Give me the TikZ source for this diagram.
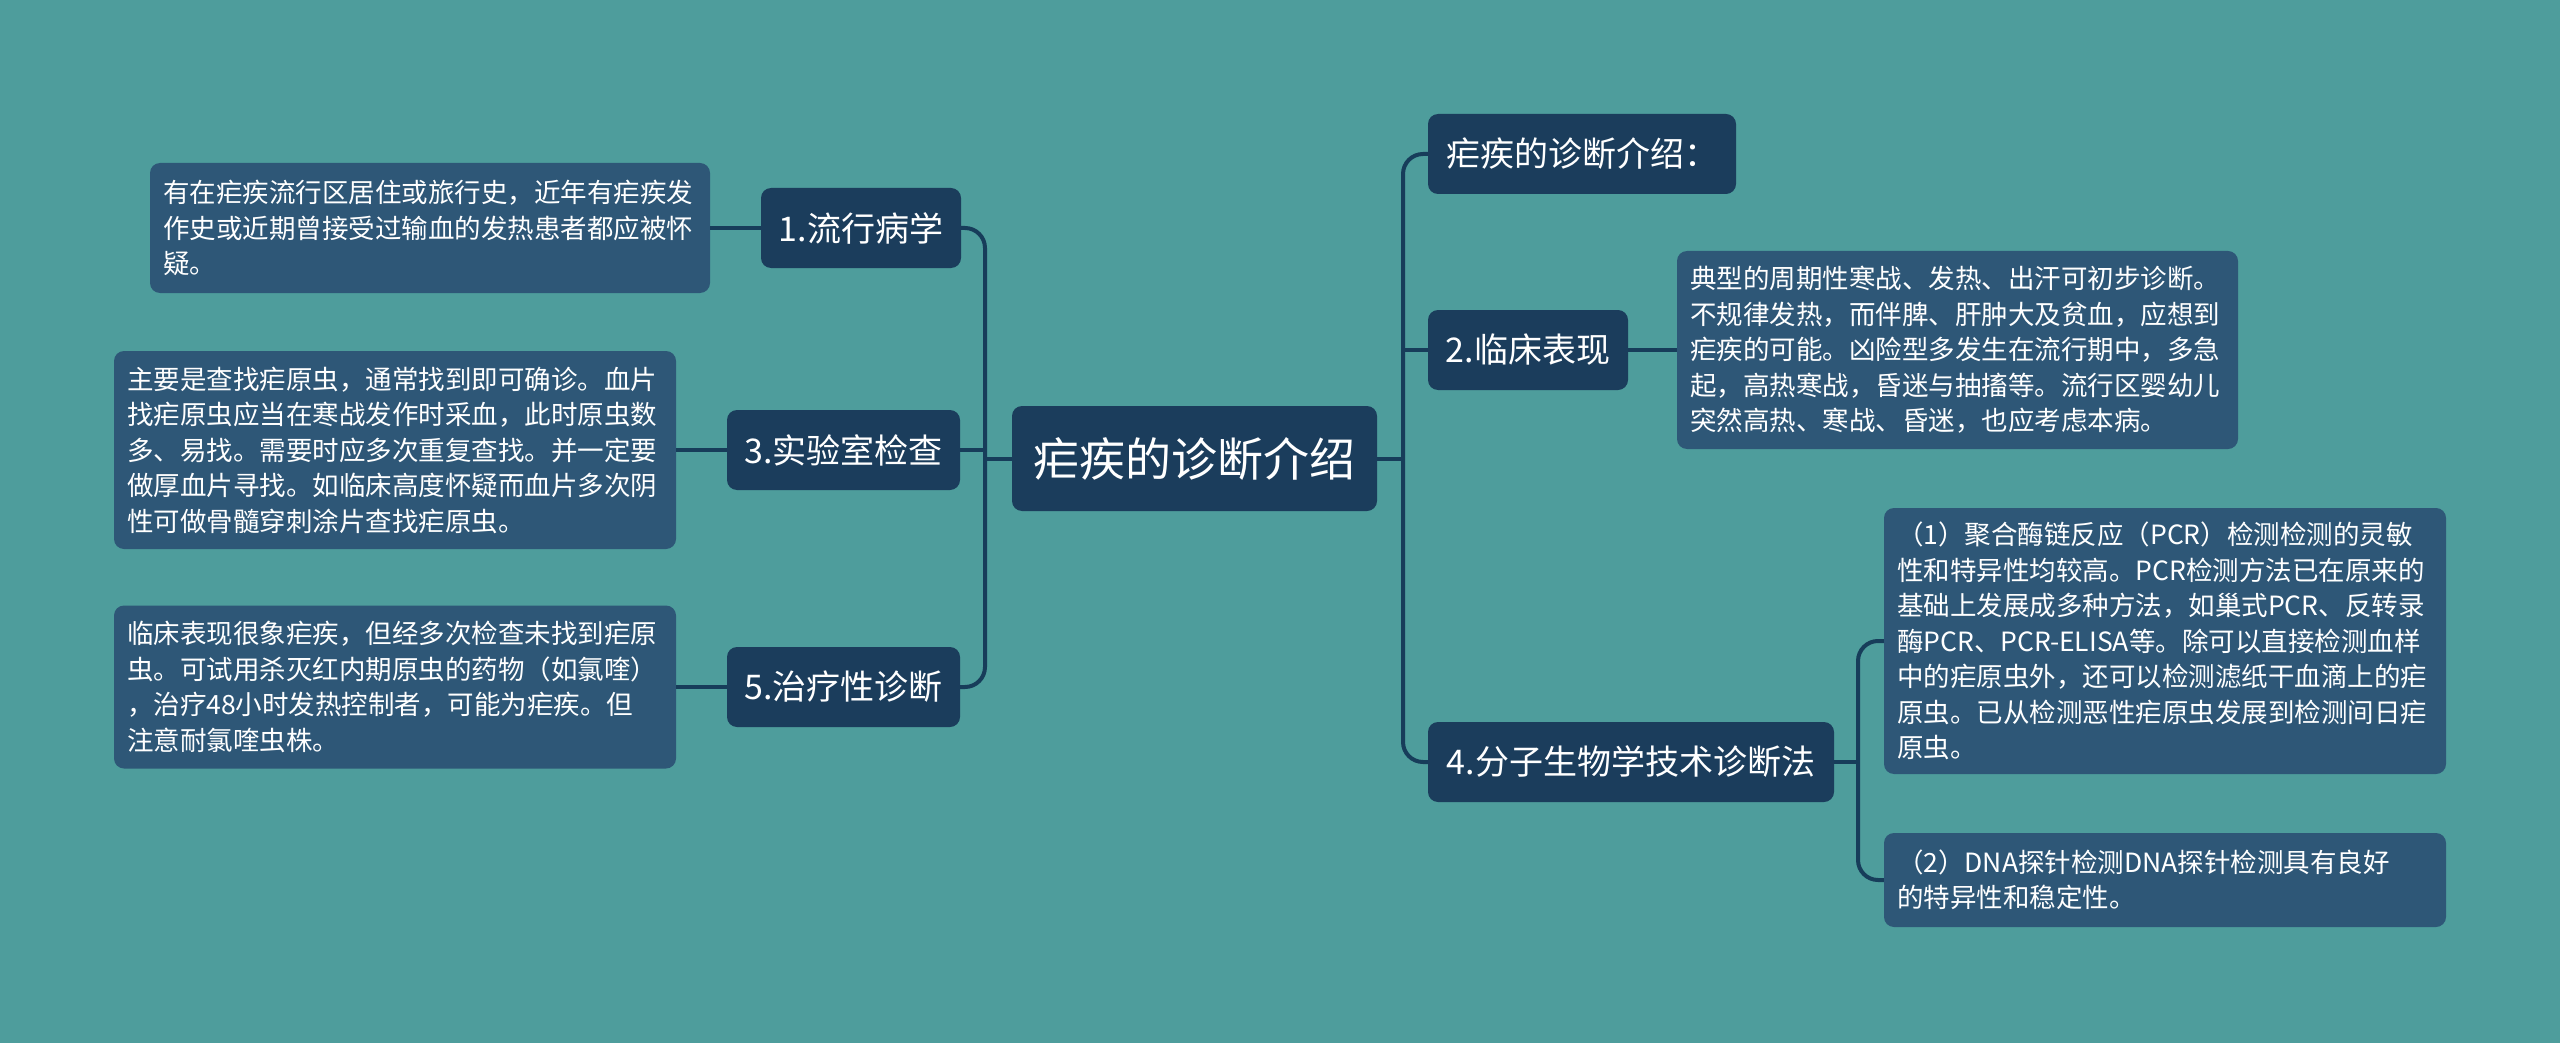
\documentclass[tikz,border=0pt]{standalone}
\usepackage{fontspec}
\setmainfont{Noto Sans CJK SC}
\definecolor{bgc}{HTML}{4E9D9C}
\definecolor{mainc}{HTML}{1B3D5C}
\definecolor{leafc}{HTML}{2E5777}
\definecolor{linec}{HTML}{173D5A}
\begin{document}
\begin{tikzpicture}[x=1pt,y=-1pt,
  mainbox/.style={fill=mainc, rounded corners=10pt, text=white, font=\fontsize{34}{40}\selectfont, inner sep=0pt, minimum height=80pt},
  leafbox/.style={fill=leafc, rounded corners=10pt, text=white, font=\fontsize{26.5}{35.5}\selectfont, inner xsep=13pt, inner ysep=0pt, align=left},
  conn/.style={draw=linec, line width=4pt, rounded corners=20pt}]
\fill[bgc] (0,0) rectangle (2560,1043);
\useasboundingbox (0,0) rectangle (2560,1043);
% trunks
\coordinate (tL) at (985,0);
\coordinate (tR) at (1403,0);
\coordinate (t4) at (1858,0);
% central
\node[mainbox, minimum width=365pt, minimum height=105pt, font=\fontsize{46}{52}\selectfont] (c) at (1194.5,458.5) {疟疾的诊断介绍};
% left main nodes
\node[mainbox, minimum width=200pt] (n1) at (861,228) {1.流行病学};
\node[mainbox, minimum width=233pt] (n3) at (843.5,450) {3.实验室检查};
\node[mainbox, minimum width=233pt] (n5) at (843.5,687) {5.治疗性诊断};
% right main nodes
\node[mainbox, minimum width=308pt] (r0) at (1582,154) {疟疾的诊断介绍：};
\node[mainbox, minimum width=200pt] (n2) at (1528,350) {2.临床表现};
\node[mainbox, minimum width=406pt] (n4) at (1631,762) {4.分子生物学技术诊断法};
% leaves
\node[leafbox, text width=534pt, minimum height=130pt] (L1) at (430,228) {有在疟疾流行区居住或旅行史，近年有疟疾发\\作史或近期曾接受过输血的发热患者都应被怀\\疑。};
\node[leafbox, text width=536pt, minimum height=198pt] (L3) at (395,450) {主要是查找疟原虫，通常找到即可确诊。血片\\找疟原虫应当在寒战发作时采血，此时原虫数\\多、易找。需要时应多次重复查找。并一定要\\做厚血片寻找。如临床高度怀疑而血片多次阴\\性可做骨髓穿刺涂片查找疟原虫。};
\node[leafbox, text width=536pt, minimum height=163pt] (L5) at (395,687) {临床表现很象疟疾，但经多次检查未找到疟原\\虫。可试用杀灭红内期原虫的药物（如氯喹）\\，治疗48小时发热控制者，可能为疟疾。但\\注意耐氯喹虫株。};
\node[leafbox, text width=535pt, minimum height=198pt] (L2) at (1957.5,350) {典型的周期性寒战、发热、出汗可初步诊断。\\不规律发热，而伴脾、肝肿大及贫血，应想到\\疟疾的可能。凶险型多发生在流行期中，多急\\起，高热寒战，昏迷与抽搐等。流行区婴幼儿\\突然高热、寒战、昏迷，也应考虑本病。};
\node[leafbox, text width=536pt, minimum height=266pt] (L4a) at (2165,641) {（1）聚合酶链反应（PCR）检测检测的灵敏\\性和特异性均较高。PCR检测方法已在原来的\\基础上发展成多种方法，如巢式PCR、反转录\\酶PCR、PCR-ELISA等。除可以直接检测血样\\中的疟原虫外，还可以检测滤纸干血滴上的疟\\原虫。已从检测恶性疟原虫发展到检测间日疟\\原虫。};
\node[leafbox, text width=536pt, minimum height=94pt] (L4b) at (2165,880) {（2）DNA探针检测DNA探针检测具有良好\\的特异性和稳定性。};
% connectors left
\draw[conn] (n1.east) -| (tL |- n5.east) -- (n5.east);
\draw[conn] (c.west) -- (c.west -| tL);
\draw[conn] (n3.east) -- (n3.east -| tL);
\draw[conn] (L1.east) -- (n1.west);
\draw[conn] (L3.east) -- (n3.west);
\draw[conn] (L5.east) -- (n5.west);
% connectors right
\draw[conn] (r0.west) -| (tR |- n4.west) -- (n4.west);
\draw[conn] (c.east) -- (c.east -| tR);
\draw[conn] (n2.west) -- (n2.west -| tR);
\draw[conn] (n2.east) -- (L2.west);
\draw[conn] (L4a.west) -| (t4 |- L4b.west) -- (L4b.west);
\draw[conn] (n4.east) -- (n4.east -| t4);
\end{tikzpicture}
\end{document}
